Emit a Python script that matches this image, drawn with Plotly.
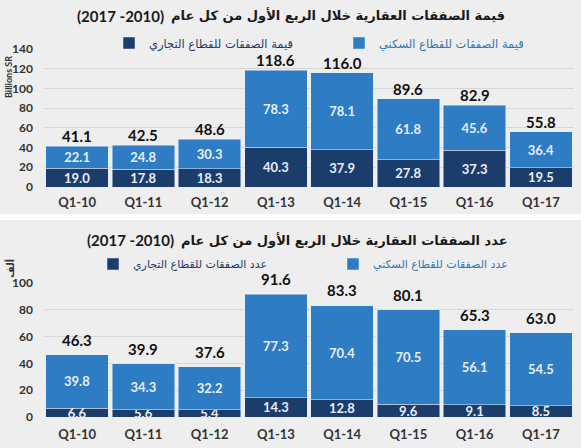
import plotly.graph_objects as go

# ---------------- data ----------------
categories = ["Q1-10", "Q1-11", "Q1-12", "Q1-13", "Q1-14", "Q1-15", "Q1-16", "Q1-17"]

value_residential = [22.1, 24.8, 30.3, 78.3, 78.1, 61.8, 45.6, 36.4]
value_commercial = [19.0, 17.8, 18.3, 40.3, 37.9, 27.8, 37.3, 19.5]
value_total = [41.1, 42.5, 48.6, 118.6, 116.0, 89.6, 82.9, 55.8]

count_residential = [39.8, 34.3, 32.2, 77.3, 70.4, 70.5, 56.1, 54.5]
count_commercial = [6.6, 5.6, 5.4, 14.3, 12.8, 9.6, 9.1, 8.5]
count_total = [46.3, 39.9, 37.6, 91.6, 83.3, 80.1, 65.3, 63.0]

top_ticks = [0, 20, 40, 60, 80, 100, 120, 140]
bottom_ticks = [0, 20, 40, 60, 80, 100]

# the page lays this run out right-to-left, so it is stored in logical RTL order
# (it displays as "(2010- 2017)")
title_years = "(2017 -2010)"
title_top_ar = "قيمة الصفقات العقارية خلال الربع الأول من كل عام"
title_bottom_ar = "عدد الصفقات العقارية خلال الربع الأول من كل عام"
leg_top_res = "قيمة الصفقات للقطاع السكني"
leg_top_com = "قيمة الصفقات للقطاع التجاري"
leg_bot_res = "عدد الصفقات للقطاع السكني"
leg_bot_com = "عدد الصفقات للقطاع التجاري"
ytitle_top = "Billions SR"
ytitle_bottom = "ألف"

# ---------------- style ----------------
W, H = 581, 448
BLUE = "#2e7cc3"
DARK = "#1b3d6c"
BG = "#eeeeee"
GRID = "#d6d6d6"
NUM_FONT = "Lato, 'DejaVu Sans', sans-serif"
AR_FONT = "'DejaVu Sans', sans-serif"
INSIDE = dict(family=NUM_FONT, size=13, color="#e8eef6", weight="bold")


def px_x(p):
    return p / W


def px_y(p):
    return 1 - p / H


def fmt(vals):
    return [f"{v:.1f}" for v in vals]


fig = go.Figure()

bar_common = dict(textposition="inside", insidetextanchor="middle", constraintext="none",
                  textangle=0, insidetextfont=INSIDE, hoverinfo="skip")

fig.add_trace(go.Bar(x=categories, y=value_commercial, name=leg_top_com, marker_color=DARK,
                     text=fmt(value_commercial), xaxis="x", yaxis="y", legend="legend",
                     **bar_common))
fig.add_trace(go.Bar(x=categories, y=value_residential, name=leg_top_res, marker_color=BLUE,
                     text=fmt(value_residential), xaxis="x", yaxis="y", legend="legend2",
                     **bar_common))
fig.add_trace(go.Bar(x=categories, y=count_commercial, name=leg_bot_com, marker_color=DARK,
                     text=fmt(count_commercial), xaxis="x2", yaxis="y2", legend="legend3",
                     **bar_common))
fig.add_trace(go.Bar(x=categories, y=count_residential, name=leg_bot_res, marker_color=BLUE,
                     text=fmt(count_residential), xaxis="x2", yaxis="y2", legend="legend4",
                     **bar_common))

total_font = dict(family=NUM_FONT, size=15, color="#111111", weight="bold")
annotations = []
for c, t in zip(categories, value_total):
    annotations.append(dict(x=c, y=t, xref="x", yref="y", text=f"{t:.1f}", showarrow=False,
                            yanchor="middle", yshift=10, font=total_font))
for c, t in zip(categories, count_total):
    annotations.append(dict(x=c, y=t, xref="x2", yref="y2", text=f"{t:.1f}", showarrow=False,
                            yanchor="middle", yshift=15, font=total_font))

title_ar_font = dict(family=AR_FONT, size=13, color="#1a1a1a", weight="bold")
title_num_font = dict(family=NUM_FONT, size=15, color="#1a1a1a", weight="bold")
annotations += [
    dict(x=px_x(507), y=px_y(16), xref="paper", yref="paper", text=title_top_ar, showarrow=False,
         xanchor="right", yanchor="middle", font=title_ar_font),
    dict(x=px_x(75), y=px_y(16), xref="paper", yref="paper", text=title_years, showarrow=False,
         xanchor="left", yanchor="middle", font=title_num_font),
    dict(x=px_x(510), y=px_y(240), xref="paper", yref="paper", text=title_bottom_ar,
         showarrow=False, xanchor="right", yanchor="middle", font=title_ar_font),
    dict(x=px_x(85), y=px_y(240), xref="paper", yref="paper", text=title_years, showarrow=False,
         xanchor="left", yanchor="middle", font=title_num_font),
    dict(x=px_x(8), y=px_y(77), xref="paper", yref="paper", text=ytitle_top, showarrow=False,
         textangle=-90, xanchor="center", yanchor="middle",
         font=dict(family=NUM_FONT, size=9, color="#333333", weight="bold")),
    dict(x=px_x(10), y=px_y(268), xref="paper", yref="paper", text=ytitle_bottom, showarrow=False,
         textangle=-90, xanchor="center", yanchor="middle",
         font=dict(family=AR_FONT, size=10, color="#333333", weight="bold")),
]

x_dom = [px_x(44), px_x(574)]
tickfont = dict(family=NUM_FONT, size=12, color="#333333", weight="bold")
xtickfont = dict(family=NUM_FONT, size=13, color="#333333", weight="bold")


def legend_at(xpx, ypx, color, size):
    return dict(x=px_x(xpx - 19), y=px_y(ypx), xanchor="left", yanchor="middle",
                orientation="h", bgcolor="rgba(0,0,0,0)", borderwidth=0,
                font=dict(family=AR_FONT, size=size, color=color))


fig.update_layout(
    width=W, height=H,
    margin=dict(l=0, r=0, t=0, b=0, pad=0, autoexpand=False),
    paper_bgcolor=BG, plot_bgcolor=BG,
    barmode="stack", bargap=0.06,
    showlegend=True,
    legend=legend_at(128, 43, "#1f3b66", 11.5),
    legend2=legend_at(358, 43, "#2e75b6", 11.5),
    legend3=legend_at(112, 264, "#1f3b66", 11),
    legend4=legend_at(352, 264, "#2e75b6", 11),
    xaxis=dict(domain=x_dom, anchor="y", showgrid=False, showline=False, zeroline=False,
               ticks="", tickfont=xtickfont, ticklabelstandoff=6, automargin=False),
    yaxis=dict(domain=[px_y(187), px_y(49)], anchor="x", range=[0, 140], tickvals=top_ticks,
               showgrid=True, gridcolor=GRID, gridwidth=1, zeroline=False, showline=False,
               ticks="", tickfont=tickfont, ticklabelstandoff=10, automargin=False),
    xaxis2=dict(domain=x_dom, anchor="y2", showgrid=False, showline=False, zeroline=False,
                ticks="", tickfont=xtickfont, ticklabelstandoff=8, automargin=False),
    yaxis2=dict(domain=[px_y(417), px_y(283)], anchor="x2", range=[0, 100], tickvals=bottom_ticks,
                showgrid=True, gridcolor=GRID, gridwidth=1, zeroline=False, showline=False,
                ticks="", tickfont=tickfont, ticklabelstandoff=10, automargin=False),
    annotations=annotations,
    shapes=[dict(type="rect", xref="paper", yref="paper", x0=0, x1=1,
                 y0=px_y(220), y1=px_y(214), fillcolor="#ffffff", line=dict(width=0),
                 layer="below")],
)

fig.write_html("out.html", config={"displayModeBar": False},
               post_script="document.body.style.margin='0';")
